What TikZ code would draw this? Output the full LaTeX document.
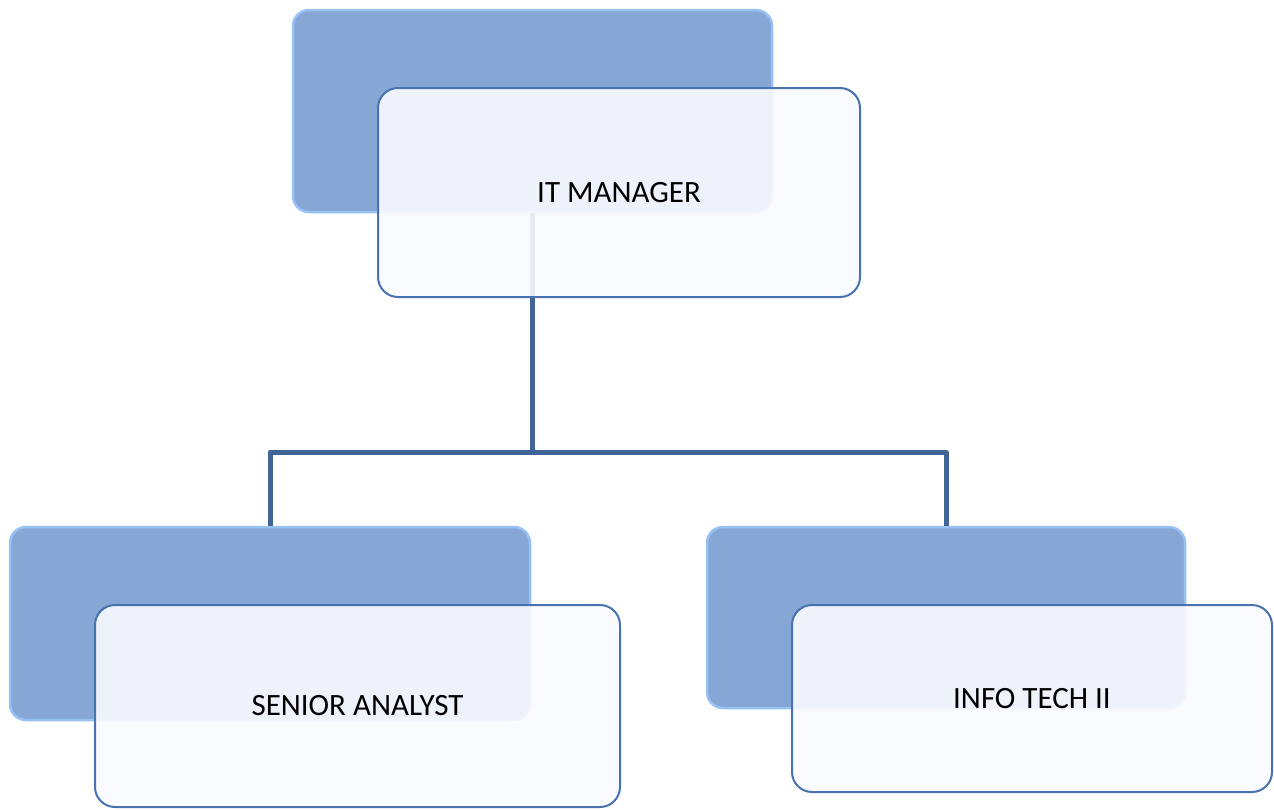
\documentclass[tikz,border=0pt]{standalone}
\usepackage{fontspec}
\setmainfont{Carlito}
\usepackage{tikz}
\usepackage{color}

\definecolor{backblue}{RGB}{134,167,214}
\definecolor{backedge}{RGB}{152,193,244}
\definecolor{cardfill}{RGB}{250,251,254}
\definecolor{cardedge}{RGB}{72,114,176}
\definecolor{linkblue}{RGB}{64,100,150}

\tikzset{
  back/.style={rectangle, rounded corners=16pt, fill=backblue, draw=backedge, line width=2.5pt},
  card/.style={rectangle, rounded corners=20pt, fill=cardfill, fill opacity=0.9, text opacity=1,
    draw=cardedge, line width=2pt, font=\fontsize{31}{36}\selectfont},
  link/.style={linkblue, line width=5pt}
}

\begin{document}
\begin{tikzpicture}[x=1pt,y=-1pt]
\useasboundingbox (0,0) rectangle (1274,809);

% blue boxes behind
\node[back, minimum width=479pt, minimum height=202pt] (mgrback) at (532.5,111) {};
\node[back, minimum width=520pt, minimum height=193pt] (anaback) at (270,623.5) {};
\node[back, minimum width=478pt, minimum height=181pt] (techback) at (946,617.5) {};

% connectors
\coordinate (split) at (mgrback.south |- 0,452);
\draw[link] (mgrback.south) -- (split);
\draw[link, line join=round] (anaback.north) |- (split) -| (techback.north);

% white cards
\node[card, minimum width=482pt, minimum height=209pt] (mgr) at (619,192.5) {IT MANAGER};
\node[card, minimum width=525pt, minimum height=202pt] (ana) at (357.5,706) {SENIOR ANALYST};
\node[card, minimum width=480pt, minimum height=187pt] (tech) at (1032,698.5) {INFO TECH II};
\end{tikzpicture}
\end{document}
